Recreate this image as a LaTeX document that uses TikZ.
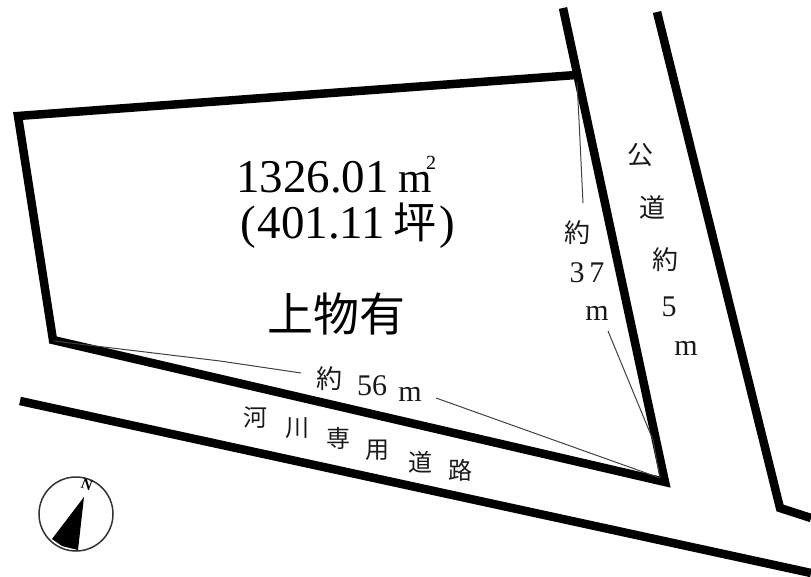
\documentclass[tikz,border=0pt]{standalone}
\usepackage{fontspec}
\setmainfont{Liberation Serif}
\newfontfamily\cjk{Noto Sans CJK JP}
\tikzset{
  x=1pt,y=-1pt,
  heavy/.style={draw=black,line width=8.5pt,line join=miter,line cap=butt},
  leader/.style={draw=black!75,line width=1pt},
  lbl/.style={inner sep=0pt,outer sep=0pt,text=black!90},
  small/.style={lbl,font=\fontsize{30}{30}\selectfont},
  kanji/.style={lbl,font=\cjk\fontsize{26}{26}\selectfont},
  river/.style={lbl,font=\cjk\fontsize{24}{24}\selectfont},
  big/.style={lbl,text=black,font=\fontsize{47}{47}\selectfont},
  bigk/.style={lbl,text=black,font=\cjk\fontsize{46}{46}\selectfont},
}
\begin{document}
\begin{tikzpicture}
\useasboundingbox (0,0) rectangle (811,577);
% lot
\coordinate (tl) at (18,116);
\coordinate (bl) at (53,340);
\coordinate (br) at (665,482);
\coordinate (tr) at (563,8);
\coordinate (te) at (576,75);
\draw[heavy] (te) -- (tl) -- (bl) -- (br) -- (tr);
% roads
\coordinate (r1) at (20,401);
\coordinate (r2) at (811,573);
\draw[heavy] (r1) -- (r2);
\coordinate (p1) at (657,12);
\coordinate (p2) at (780,508);
\coordinate (p3) at (811,518);
\draw[heavy] (p1) -- (p2) -- (p3);
% texts
\node[big,anchor=base west] (area) at (236,193) {1326.01};
\node[big,anchor=base west] (unit) at (398,193) {\fontsize{43}{43}\selectfont m};
\node[lbl,text=black,font=\fontsize{20}{20}\selectfont,anchor=base west] (sq) at (426,170) {2};
\node[big,anchor=base west] (tsubo) at (240,239) {(\hspace{2pt}401.11\hspace{8pt}{\cjk\fontsize{43}{43}\selectfont 坪}\hspace{3pt})};
\node[bigk] (bldg) at (336,314) {上物有};
% road labels
\node[kanji] (k1) at (640,155) {公};
\node[kanji] (k2) at (652,208) {道};
\node[kanji] (k3) at (665,260) {約};
\node[small] (k4) at (669,307) {5};
\node[small] (k5) at (686,348) {m};
\node[kanji] (a1) at (577,233) {約};
\node[small] (a2) at (587,273) {3\hspace{5pt}7};
\node[small] (a3) at (597,313) {m};
\node[kanji] (b1) at (329,379) {約};
\node[small] (b2) at (372,386) {56};
\node[small] (b3) at (410,394) {m};
\node[river] (c1) at (255,418) {河};
\node[river] (c2) at (297,428) {川};
\node[river] (c3) at (338,438) {専};
\node[river] (c4) at (377,450) {用};
\node[river] (c5) at (420,462) {道};
\node[river] (c6) at (460,470) {路};
% leaders
\coordinate (la) at (577,82);
\coordinate (lb) at (583,203);
\coordinate (lc) at (608,331);
\coordinate (ld) at (660,478);
\coordinate (le) at (54,341);
\coordinate (lf) at (301,373);
\coordinate (lg) at (436,398);
\draw[leader] (la) -- (579,120) -- (lb);
\draw[leader] (lc) -- (653,440) -- (ld);
\draw[leader] (le) -- (220,361) -- (lf);
\draw[leader] (lg) -- (ld);
% compass
\node[circle,draw=black!80,line width=1.5pt,minimum size=74pt,inner sep=0pt] (comp) at (76,514) {};
\fill[black] (84,497) -- (52,539) -- (62,546) -- (78,550) -- cycle;
\node[lbl,text=black,font=\bfseries\fontsize{15}{15}\selectfont,rotate=-20] (north) at (87,485) {N};
\end{tikzpicture}
\end{document}
